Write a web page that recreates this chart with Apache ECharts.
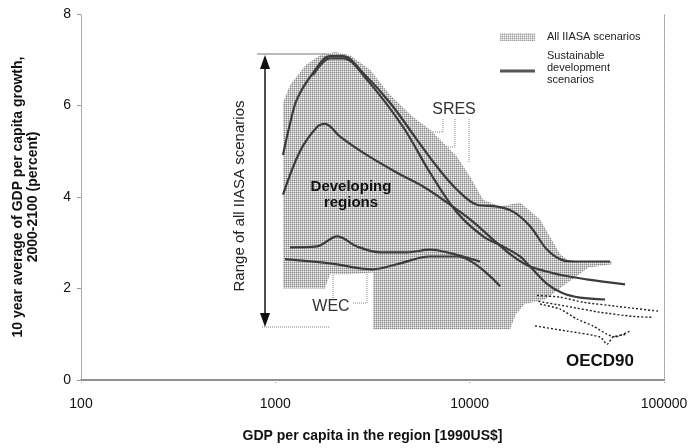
<!DOCTYPE html>
<html><head><meta charset="utf-8">
<script src="https://cdn.jsdelivr.net/npm/echarts@6/dist/echarts.min.js"></script>
<style>html,body{margin:0;padding:0;background:#fff}#c{width:695px;height:448px}</style>
</head><body><div id="c"></div>
<script>
const FONT = '"Liberation Sans", Arial, sans-serif';
const xTicks = [100, 1000, 10000, 100000];
const yTicks = [0, 2, 4, 6, 8];

// Envelope of all IIASA scenarios [GDP per capita, growth %]
const iiasaRange = [
  [1095,2.0],[1095,4.9],[1095,6.06],[1190,6.45],[1430,6.88],[1698,7.10],[2029,7.17],[2424,7.10],
  [3072,6.78],[3893,6.23],[5110,5.75],[6255,5.47],[8612,4.88],[10048,4.44],[11722,3.94],
  [14339,3.79],[18170,3.88],[23030,3.51],[29200,2.75],[32800,2.59],[54070,2.59],[54070,2.53],
  [40900,2.46],[30970,2.09],[24440,1.76],[19200,1.66],[17300,1.44],[16140,1.11],[3183,1.11],
  [3183,2.35],[2424,2.31],[1912,2.31],[1800,2.0]
];
// Sustainable development scenarios
const sresA = [[1095,4.92],[1190,5.6],[1293,6.14],[1563,6.71],[1912,7.08],[2231,7.08],[2828,6.71],[3893,6.06],[5361,5.25],[6796,4.66],[8612,4.16],[10916,3.83],[13836,3.79],[16730,3.68],[20460,3.36],[25000,2.85],[30000,2.62],[35000,2.59],[52800,2.59]];
const sresB = [[1563,6.66],[1912,7.03],[2231,7.03],[2965,6.56],[4543,5.53],[6255,4.53],[8612,3.66],[11722,3.14],[14855,2.92],[18170,2.70],[20460,2.48],[25000,2.1],[30000,1.9],[37010,1.8],[49750,1.76]];
const sresC = [[1095,4.05],[1340,5.0],[1640,5.53],[1803,5.6],[2153,5.32],[2828,4.97],[4229,4.53],[5757,4.23],[7297,3.94],[10048,3.51],[13195,3.07],[16730,2.70],[20460,2.48],[29200,2.3],[40000,2.2],[63070,2.09]];
const wecA = [[1190,2.9],[1640,2.92],[2078,3.14],[2633,2.92],[3459,2.79],[4762,2.79],[6255,2.85],[7648,2.79],[11311,2.59]];
const wecB = [[1122,2.64],[1912,2.55],[3183,2.42],[4229,2.53],[6255,2.70],[8612,2.70],[14339,2.05]];
// OECD90 regions
const oecd1 = [[22230,1.85],[29200,1.81],[38340,1.70],[57360,1.61],[95500,1.50]];
const oecd2 = [[22600,1.72],[31710,1.61],[46910,1.48],[69340,1.39],[86860,1.37]];
const oecd3 = [[23030,1.66],[29200,1.55],[35710,1.33],[43170,1.18],[50950,1.0],[56010,0.94],[66920,1.07]];
const oecd4 = [[21710,1.18],[31710,1.07],[46910,0.94],[50950,0.78],[54700,0.94],[64570,1.00]];

function stipple(bg, mid, dark){
  const c = document.createElement('canvas'); c.width = 2; c.height = 2;
  const g = c.getContext('2d');
  g.fillStyle = bg; g.fillRect(0,0,2,2);
  g.fillStyle = mid; g.fillRect(1,0,1,1); g.fillRect(0,1,1,1);
  g.fillStyle = dark; g.fillRect(0,0,1,1);
  return c;
}
const pat = {image: stipple('#f0f0f0', '#c2c2c2', '#8a8a8a'), repeat: 'repeat'};
const patLegend = {image: stipple('#f4f4f4', '#cfcfcf', '#a0a0a0'), repeat: 'repeat'};

const chart = echarts.init(document.getElementById('c'), null, {renderer:'canvas'});
const sdLine = {type:'line', smooth:0.35, symbol:'none', lineStyle:{color:'#3c3c3c', width:2.2}, z:3, silent:true};
const oLine = {type:'line', smooth:0.2, symbol:'none', lineStyle:{color:'#222', width:1.4, type:[2,2]}, z:3, silent:true};

chart.setOption({
  animation:false,
  textStyle:{fontFamily:FONT},
  grid:{left:81, right:31, top:14, bottom:67},
  xAxis:[{
    type:'log', logBase:10, min:xTicks[0], max:xTicks[xTicks.length-1],
    axisLine:{lineStyle:{color:'#8a8a8a', width:1.5}},
    axisTick:{show:true, length:4, lineStyle:{color:'#999', type:'dotted'}},
    axisLabel:{color:'#111', fontSize:14, margin:17, fontFamily:FONT, formatter:(v)=>String(Math.round(v))},
    splitLine:{show:false}, minorTick:{show:false},
    name:'GDP per capita in the region [1990US$]', nameLocation:'middle', nameGap:49,
    nameTextStyle:{fontWeight:'bold', fontSize:14, color:'#111', fontFamily:FONT}
  },{
    type:'log', logBase:10, min:xTicks[0], max:xTicks[xTicks.length-1], position:'top',
    axisLine:{lineStyle:{color:'#8a8a8a', width:1.5}}, axisTick:{show:false}, axisLabel:{show:false}, splitLine:{show:false}
  }],
  yAxis:[{
    type:'value', min:yTicks[0], max:yTicks[yTicks.length-1], interval:2,
    axisLine:{show:true, lineStyle:{color:'#999', type:'dotted', width:1}},
    axisTick:{show:true, length:4, lineStyle:{color:'#999'}},
    axisLabel:{color:'#111', fontSize:14, margin:10, fontFamily:FONT},
    splitLine:{show:false},
    name:'10 year average of GDP per capita growth,\n2000-2100 (percent)', nameLocation:'middle', nameGap:40, nameRotate:90,
    nameTextStyle:{fontWeight:'bold', fontSize:14, color:'#111', lineHeight:15, fontFamily:FONT}
  },{
    type:'value', min:0, max:8, interval:2, position:'right',
    axisLine:{show:true, lineStyle:{color:'#999', type:'dotted', width:1}}, axisTick:{show:false}, axisLabel:{show:false}, splitLine:{show:false}
  }],
  series:[
    {type:'custom', silent:true, z:1, data:iiasaRange, clip:true,
     renderItem:(params, api)=>{
       if(params.dataIndex!==0) return null;
       return {type:'polygon', shape:{points:iiasaRange.map(p=>api.coord(p))}, style:{fill:pat}};
     }},
    Object.assign({data:sresA}, sdLine),
    Object.assign({data:sresB}, sdLine),
    Object.assign({data:sresC}, sdLine),
    Object.assign({data:wecA}, sdLine),
    Object.assign({data:wecB}, sdLine),
    Object.assign({data:oecd1}, oLine),
    Object.assign({data:oecd2}, oLine),
    Object.assign({data:oecd3}, oLine),
    Object.assign({data:oecd4}, oLine)
  ],
  graphic:[
    // legend
    {type:'rect', shape:{x:500,y:33,width:35,height:8}, style:{fill:patLegend}},
    {type:'text', x:547, y:37, style:{text:'All IIASA scenarios', font:'11px '+FONT, fill:'#222', verticalAlign:'middle'}},
    {type:'line', shape:{x1:500,y1:71,x2:535,y2:71}, style:{stroke:'#555', lineWidth:3}},
    {type:'text', x:547, y:50, style:{text:'Sustainable\ndevelopment\nscenarios', font:'11px '+FONT, lineHeight:12, fill:'#222'}},
    // range arrow
    {type:'line', shape:{x1:257,y1:54,x2:333,y2:54}, style:{stroke:'#777', lineWidth:1}},
    {type:'line', shape:{x1:262,y1:327,x2:330,y2:327}, style:{stroke:'#888', lineWidth:1, lineDash:[1,1]}},
    {type:'line', shape:{x1:265,y1:64,x2:265,y2:318}, style:{stroke:'#111', lineWidth:1.5}},
    {type:'polygon', shape:{points:[[265,55],[260,69],[270,69]]}, style:{fill:'#111'}},
    {type:'polygon', shape:{points:[[265,327],[260,313],[270,313]]}, style:{fill:'#111'}},
    {type:'text', x:240, y:196, rotation:Math.PI/2, style:{text:'Range of all IIASA scenarios', font:'15px '+FONT, fill:'#222', align:'center', verticalAlign:'middle'}},
    // labels
    {type:'text', x:351, y:187, z:10, style:{text:'Developing', font:'bold 15px '+FONT, fill:'#111', align:'center', verticalAlign:'middle'}},
    {type:'text', x:351, y:203, z:10, style:{text:'regions', font:'bold 15px '+FONT, fill:'#111', align:'center', verticalAlign:'middle'}},
    {type:'text', x:454, y:110, style:{text:'SRES', font:'16px '+FONT, fill:'#333', align:'center', verticalAlign:'middle'}},
    {type:'text', x:331, y:307, style:{text:'WEC', font:'16px '+FONT, fill:'#333', align:'center', verticalAlign:'middle'}},
    {type:'text', x:600, y:361, style:{text:'OECD90', font:'bold 17px '+FONT, fill:'#111', align:'center', verticalAlign:'middle'}},
    // leader lines
    {type:'polyline', shape:{points:[[443,119],[443,132],[429,132]]}, style:{stroke:'#888', lineWidth:1, lineDash:[1,1]}},
    {type:'polyline', shape:{points:[[455,119],[455,147],[428,147]]}, style:{stroke:'#888', lineWidth:1, lineDash:[1,1]}},
    {type:'polyline', shape:{points:[[469,119],[469,162]]}, style:{stroke:'#888', lineWidth:1, lineDash:[1,1]}},
    {type:'polyline', shape:{points:[[333,271],[333,299]]}, style:{stroke:'#888', lineWidth:1, lineDash:[1,1]}},
    {type:'polyline', shape:{points:[[353,303],[367,303],[367,267]]}, style:{stroke:'#888', lineWidth:1, lineDash:[1,1]}}
  ]
});
</script>
</body></html>
